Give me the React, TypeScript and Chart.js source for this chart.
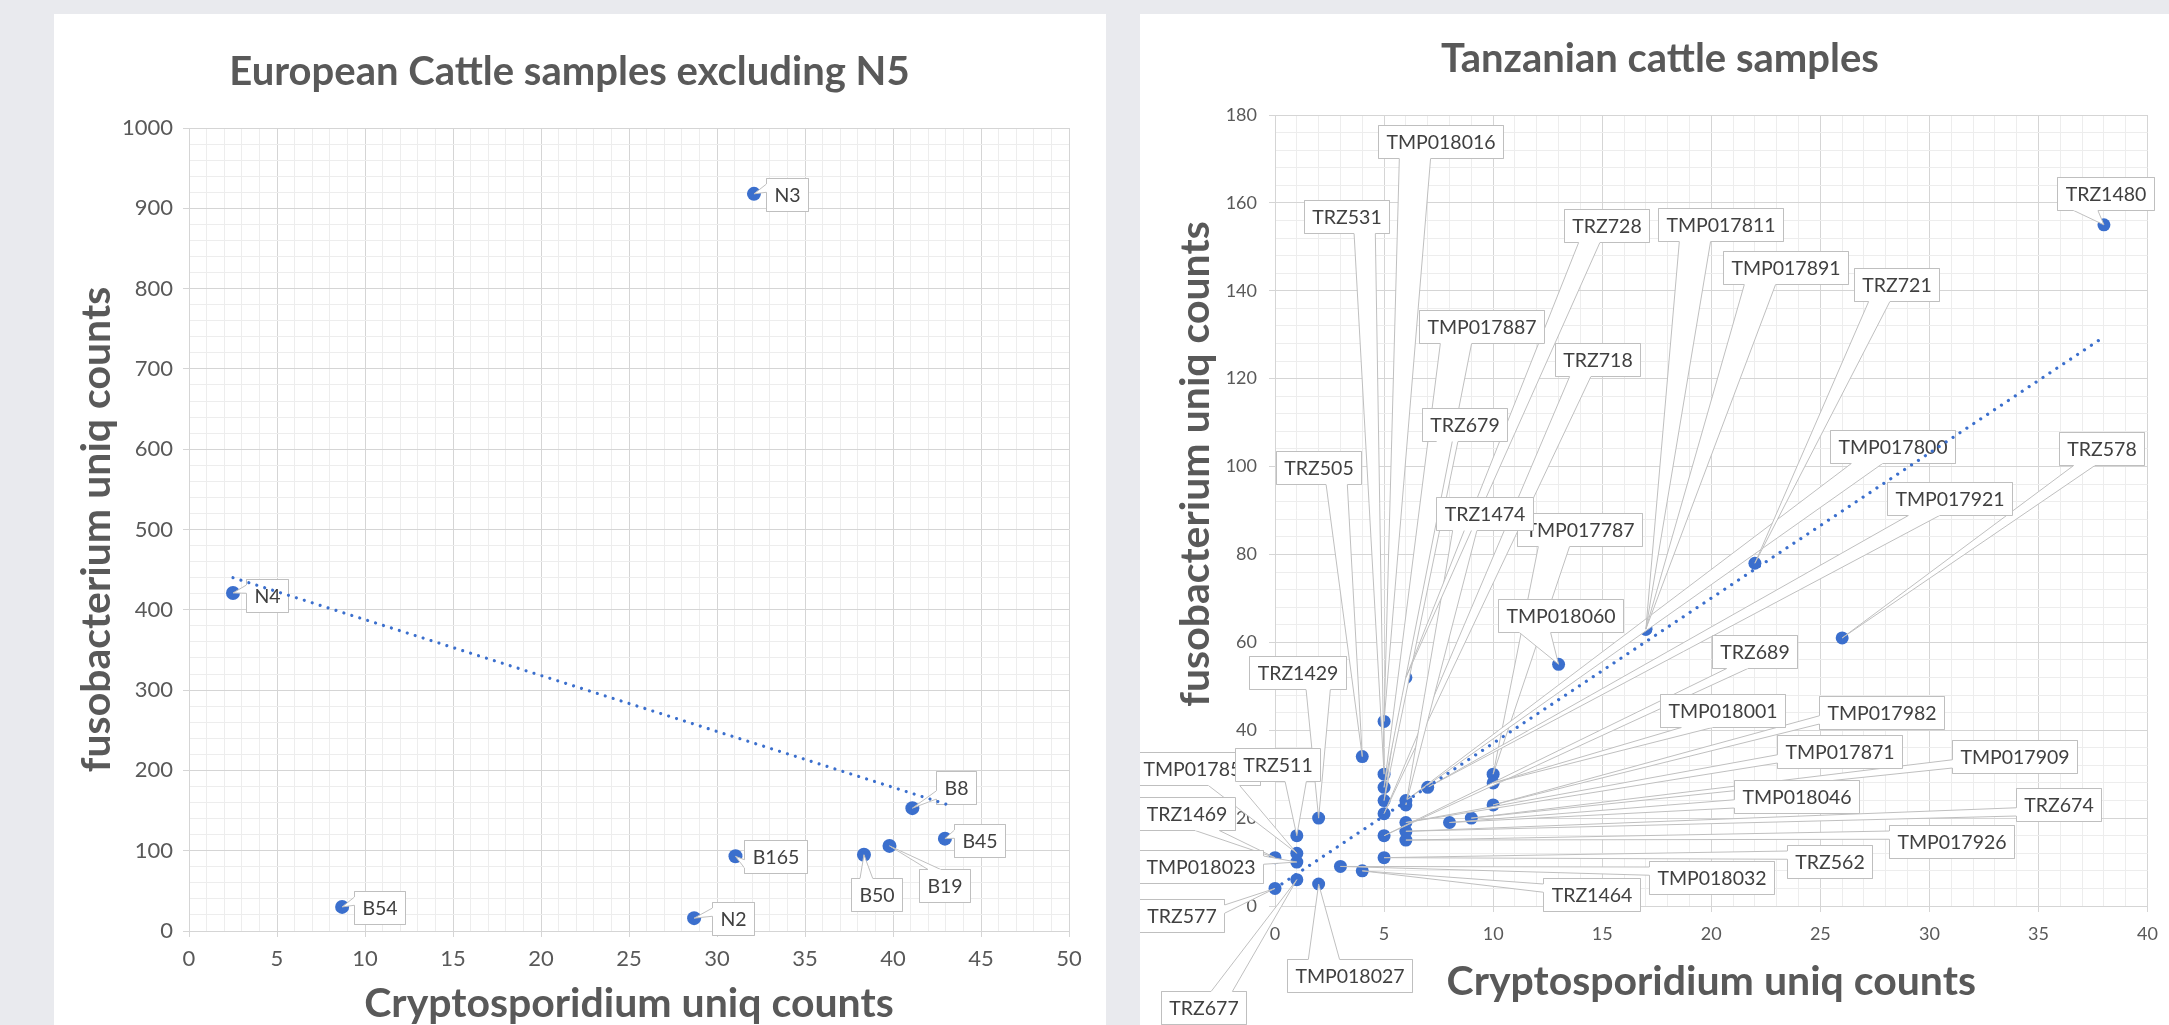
import React, { useEffect, useRef } from 'react';
import { Chart, registerables } from 'chart.js';

Chart.register(...registerables);

// ---------------- European cattle (left panel) ----------------
const euSamples = ['N4', 'N3', 'B54', 'N2', 'B165', 'B50', 'B19', 'B8', 'B45'];
const euCrypto = [2.5, 32.1, 8.7, 28.7, 31.05, 38.35, 39.8, 41.1, 42.95];
const euFuso = [421, 918, 30, 16, 93, 95, 106, 153, 115];
// where each data-label box sits (data coordinates of box centre)
const euLabelAtX = [4.43, 34.0, 10.8, 30.9, 33.3, 39.06, 42.9, 43.6, 44.93];
const euLabelAtY = [418, 917, 29, 15.7, 93, 45, 56.4, 178.5, 113.3];
const euTrendX = [2.5, 43];
const euTrendY = [440, 158];
const euXAxis = [0, 50, 5, 1]; // min, max, major step, minor step
const euYAxis = [0, 1000, 100, 20];

// ---------------- Tanzanian cattle (right panel) ----------------
const tzSamples = ['', 'TMP017787', 'TRZ577', 'TRZ1469', 'TRZ677', 'TMP018023', 'TMP017852', 'TRZ511', 'TMP018027', 'TRZ1429', 'TMP018032', 'TRZ1464', 'TRZ505', 'TRZ562', 'TRZ689', 'TRZ718', 'TRZ679', 'TMP017887', 'TRZ531', 'TMP018016', 'TMP017926', 'TRZ674', 'TMP017871', 'TRZ1474', 'TMP017800', 'TRZ728', 'TMP017921', 'TMP018046', 'TMP017909', 'TMP017982', 'TMP018001', 'TMP018060', 'TMP017891', 'TMP017811', 'TRZ721', 'TRZ578', 'TRZ1480'];
const tzCrypto = [-0.8, 10, 0, 0, 1, 1, 1, 1, 2, 2, 3, 4, 4, 5, 5, 5, 5, 5, 5, 5, 6, 6, 6, 6, 6, 6, 7, 8, 9, 10, 10, 13, 17, 17, 22, 26, 38];
const tzFuso = [157, 30, 4, 11, 6, 10, 12, 16, 5, 20, 9, 8, 34, 11, 16, 21, 24, 27, 30, 42, 15, 17, 19, 23, 24, 52, 27, 19, 20, 23, 28, 55, 63, 63, 78, 61, 155];
const tzLabelAtX = [0, 13.95, -4.3, -4.06, -3.3, -3.4, -3.55, 0.1, 3.4, 1.05, 20, 14.5, 2.0, 25.4, 22, 14.8, 8.7, 9.45, 3.3, 7.6, 31, 35.9, 25.9, 9.6, 28.3, 15.2, 30.9, 23.9, 33.9, 27.8, 20.5, 13.1, 23.4, 20.4, 28.5, 37.9, 38.05];
const tzLabelAtY = [0, 85.6, -2.2, 21.1, -23, 9.1, 31.4, 32.2, -15.8, 53.1, 6.5, 2.7, 99.8, 10.2, 57.9, 124.4, 109.5, 131.8, 157, 174, 14.6, 23, 35.1, 89.4, 104.5, 154.9, 92.7, 24.9, 34.1, 44, 44.5, 66.2, 145.4, 155, 141.5, 104.2, 162.2];
const tzTrendX = [0, 38];
const tzTrendY = [4, 129.5];
const tzXAxis = [0, 40, 5, 1];
const tzYAxis = [0, 180, 20, 4];

const FONT = 'Lato, "Open Sans", sans-serif';
const BLUE = '#3b6fcd';
const GRID_MAJOR = '#d5d5d5';
const GRID_MINOR = '#ededed';
const AXIS_TEXT = '#595959';
const LABEL_TEXT = '#404040';
const CALLOUT_BORDER = '#bfbfbf';

interface PanelSpec {
  width: number;
  height: number;
  padLeft: number;
  padRight: number;
  title: string;
  titleFont: number;
  titlePadTop: number;
  titlePadBottom: number;
  yAxisWidth: number;
  xAxisHeight: number;
  xTitle: string;
  yTitle: string;
  axisTitleFont: number;
  xTitleY: number;
  yTitleX: number;
  yTitleCY: number | null;
  names: string[];
  xs: number[];
  ys: number[];
  lx: number[];
  ly: number[];
  trendX: number[];
  trendY: number[];
  xAxis: number[];
  yAxis: number[];
  tickFont: number;
  labelFont: number;
  xTickPad: number;
  yTickPad: number;
  pointRadius: number;
}

interface CalloutGeom {
  poly: number[][];
  tip: number;
  x0: number;
  y0: number;
  w: number;
  h: number;
  text: string;
}

function calloutGeom(ctx: CanvasRenderingContext2D, text: string, cx: number, cy: number, tx: number, ty: number, fontSize: number): CalloutGeom {
  ctx.font = `${fontSize}px ${FONT}`;
  const tw = ctx.measureText(text).width;
  const padX = 8;
  const padY = 6.5;
  const w = Math.round(tw + 2 * padX);
  const h = Math.round(fontSize + 2 * padY);
  const x0 = Math.round(cx - w / 2) + 0.5;
  const y0 = Math.round(cy - h / 2) + 0.5;
  const x1 = x0 + w;
  const y1 = y0 + h;
  const dx = tx - cx;
  const dy = ty - cy;
  const vertical = Math.abs(dy) / h > Math.abs(dx) / w;
  const edge = vertical ? (dy < 0 ? 'top' : 'bottom') : dx < 0 ? 'left' : 'right';
  const hf = dx < 0 ? [1 / 6, 5 / 12] : [7 / 12, 5 / 6];
  const vf = dy < 0 ? [1 / 6, 5 / 12] : [7 / 12, 5 / 6];
  const poly: number[][] = [[x0, y0]];
  let tip = -1;
  const addTip = () => {
    tip = poly.length;
    poly.push([tx, ty]);
  };
  if (edge === 'top') {
    poly.push([x0 + w * hf[0], y0]);
    addTip();
    poly.push([x0 + w * hf[1], y0]);
  }
  poly.push([x1, y0]);
  if (edge === 'right') {
    poly.push([x1, y0 + h * vf[0]]);
    addTip();
    poly.push([x1, y0 + h * vf[1]]);
  }
  poly.push([x1, y1]);
  if (edge === 'bottom') {
    poly.push([x0 + w * hf[1], y1]);
    addTip();
    poly.push([x0 + w * hf[0], y1]);
  }
  poly.push([x0, y1]);
  if (edge === 'left') {
    poly.push([x0, y0 + h * vf[1]]);
    addTip();
    poly.push([x0, y0 + h * vf[0]]);
  }
  return { poly, tip, x0, y0, w, h, text };
}

function drawCallouts(ctx: CanvasRenderingContext2D, geoms: CalloutGeom[], fontSize: number) {
  ctx.lineWidth = 1;
  ctx.lineJoin = 'miter';
  ctx.strokeStyle = CALLOUT_BORDER;
  // pass 1: full callout shapes (leader wedges)
  geoms.forEach((g) => {
    ctx.beginPath();
    g.poly.forEach((p, i) => (i === 0 ? ctx.moveTo(p[0], p[1]) : ctx.lineTo(p[0], p[1])));
    ctx.closePath();
    ctx.fillStyle = '#ffffff';
    ctx.fill();
    ctx.stroke();
  });
  // pass 2: boxes on top
  geoms.forEach((g) => {
    ctx.fillStyle = '#ffffff';
    ctx.fillRect(g.x0, g.y0, g.w, g.h);
    const n = g.poly.length;
    ctx.beginPath();
    for (let k = 1; k < n; k++) {
      const p = g.poly[(g.tip + k) % n];
      if (k === 1) ctx.moveTo(p[0], p[1]);
      else ctx.lineTo(p[0], p[1]);
    }
    ctx.stroke();
    ctx.font = `${fontSize}px ${FONT}`;
    ctx.fillStyle = LABEL_TEXT;
    ctx.textAlign = 'center';
    ctx.textBaseline = 'middle';
    ctx.fillText(g.text, g.x0 + g.w / 2, g.y0 + g.h / 2 + 1);
  });
}

function isMajor(v: number, step: number) {
  const r = v / step;
  return Math.abs(r - Math.round(r)) < 1e-6;
}

function buildChart(canvas: HTMLCanvasElement, s: PanelSpec) {
  const points = s.xs.map((x, i) => ({ x, y: s.ys[i] }));
  const trend = s.trendX.map((x, i) => ({ x, y: s.trendY[i] }));

  const decor = {
    id: 'decor' + s.title.length,
    beforeDatasetDraw(chart: any, args: any) {
      if (args.index !== 0) return;
      const ctx = chart.ctx as CanvasRenderingContext2D;
      const sx = chart.scales.x;
      const sy = chart.scales.y;
      ctx.save();
      const geoms: CalloutGeom[] = [];
      s.names.forEach((name, i) => {
        if (!name) return;
        geoms.push(
          calloutGeom(
            ctx,
            name,
            sx.getPixelForValue(s.lx[i]),
            sy.getPixelForValue(s.ly[i]),
            sx.getPixelForValue(s.xs[i]),
            sy.getPixelForValue(s.ys[i]),
            s.labelFont
          )
        );
      });
      drawCallouts(ctx, geoms, s.labelFont);
      ctx.restore();
    },
    afterDraw(chart: any) {
      const ctx = chart.ctx as CanvasRenderingContext2D;
      const ca = chart.chartArea;
      ctx.save();
      ctx.fillStyle = AXIS_TEXT;
      ctx.font = `bold ${s.axisTitleFont}px ${FONT}`;
      ctx.textAlign = 'center';
      ctx.textBaseline = 'middle';
      ctx.fillText(s.xTitle, (ca.left + ca.right) / 2, s.xTitleY);
      ctx.translate(s.yTitleX, s.yTitleCY ?? (ca.top + ca.bottom) / 2);
      ctx.rotate(-Math.PI / 2);
      ctx.fillText(s.yTitle, 0, 0);
      ctx.restore();
    },
  };

  const axis = (range: number[], pad: number, fitKey: 'width' | 'height', fitVal: number) => ({
    type: 'linear' as const,
    min: range[0],
    max: range[1],
    afterFit: (sc: any) => {
      sc[fitKey] = fitVal;
    },
    ticks: {
      stepSize: range[3],
      autoSkip: false,
      maxRotation: 0,
      minRotation: 0,
      padding: pad,
      color: AXIS_TEXT,
      font: { family: FONT, size: s.tickFont },
      callback: (v: any) => (isMajor(Number(v), range[2]) ? String(v) : ''),
    },
    grid: {
      color: (c: any) => (c.tick && !isMajor(c.tick.value, range[2]) ? GRID_MINOR : GRID_MAJOR),
      lineWidth: 1,
      drawTicks: true,
      tickLength: 6,
      tickColor: (c: any) => (c.tick && isMajor(c.tick.value, range[2]) ? GRID_MAJOR : 'rgba(0,0,0,0)'),
    },
    border: { display: true, color: GRID_MAJOR },
  });

  return new Chart(canvas, {
    type: 'scatter',
    data: {
      datasets: [
        {
          data: trend,
          showLine: true,
          borderColor: BLUE,
          borderWidth: 3.2,
          borderDash: [0.01, 8.3],
          borderCapStyle: 'round',
          pointRadius: 0,
          fill: false,
        } as any,
        {
          data: points,
          pointRadius: s.pointRadius,
          pointBackgroundColor: BLUE,
          pointBorderWidth: 0,
          borderColor: BLUE,
          clip: false,
        } as any,
      ],
    },
    options: {
      animation: false,
      responsive: false,
      devicePixelRatio: 1,
      events: [],
      layout: { padding: { left: s.padLeft, right: s.padRight, top: 0, bottom: 0 } },
      plugins: {
        legend: { display: false },
        tooltip: { enabled: false },
        title: {
          display: true,
          text: s.title,
          color: AXIS_TEXT,
          font: { family: FONT, size: s.titleFont, weight: 'bold', lineHeight: 1.2 },
          padding: { top: s.titlePadTop, bottom: s.titlePadBottom },
        },
      },
      scales: {
        x: axis(s.xAxis, s.xTickPad, 'height', s.xAxisHeight),
        y: axis(s.yAxis, s.yTickPad, 'width', s.yAxisWidth),
      },
    } as any,
    plugins: [decor],
  });
}

const leftSpec: PanelSpec = {
  width: 1052,
  height: 1011,
  padLeft: 16,
  padRight: 37,
  title: 'European Cattle samples excluding N5',
  titleFont: 40,
  titlePadTop: 34,
  titlePadBottom: 32,
  yAxisWidth: 119,
  xAxisHeight: 94,
  xTitle: 'Cryptosporidium uniq counts',
  yTitle: 'fusobacterium uniq counts',
  axisTitleFont: 41,
  xTitleY: 990,
  yTitleX: 43,
  yTitleCY: null,
  names: euSamples,
  xs: euCrypto,
  ys: euFuso,
  lx: euLabelAtX,
  ly: euLabelAtY,
  trendX: euTrendX,
  trendY: euTrendY,
  xAxis: euXAxis,
  yAxis: euYAxis,
  tickFont: 22,
  labelFont: 19.5,
  xTickPad: 9,
  yTickPad: 10,
  pointRadius: 7,
};

const rightSpec: PanelSpec = {
  width: 1029,
  height: 1011,
  padLeft: 31,
  padRight: 20,
  title: 'Tanzanian cattle samples',
  titleFont: 40,
  titlePadTop: 21,
  titlePadBottom: 32,
  yAxisWidth: 104,
  xAxisHeight: 119,
  xTitle: 'Cryptosporidium uniq counts',
  yTitle: 'fusobacterium uniq counts',
  axisTitleFont: 41,
  xTitleY: 968,
  yTitleX: 56,
  yTitleCY: 450,
  names: tzSamples,
  xs: tzCrypto,
  ys: tzFuso,
  lx: tzLabelAtX,
  ly: tzLabelAtY,
  trendX: tzTrendX,
  trendY: tzTrendY,
  xAxis: tzXAxis,
  yAxis: tzYAxis,
  tickFont: 18,
  labelFont: 19.5,
  xTickPad: 11,
  yTickPad: 12,
  pointRadius: 6.5,
};

export default function App() {
  const leftRef = useRef<HTMLCanvasElement>(null);
  const rightRef = useRef<HTMLCanvasElement>(null);

  useEffect(() => {
    const a = buildChart(leftRef.current!, leftSpec);
    const b = buildChart(rightRef.current!, rightSpec);
    return () => {
      a.destroy();
      b.destroy();
    };
  }, []);

  return (
    <div
      style={{
        position: 'fixed',
        left: 0,
        top: 0,
        width: 2169,
        height: 1025,
        background: '#e9eaee',
        overflow: 'hidden',
      }}
    >
      <div style={{ position: 'absolute', left: 54, top: 14, width: 1052, height: 1011, background: '#ffffff' }}>
        <canvas ref={leftRef} width={1052} height={1011} style={{ display: 'block' }} />
      </div>
      <div style={{ position: 'absolute', left: 1140, top: 14, width: 1029, height: 1011, background: '#ffffff' }}>
        <canvas ref={rightRef} width={1029} height={1011} style={{ display: 'block' }} />
      </div>
    </div>
  );
}
